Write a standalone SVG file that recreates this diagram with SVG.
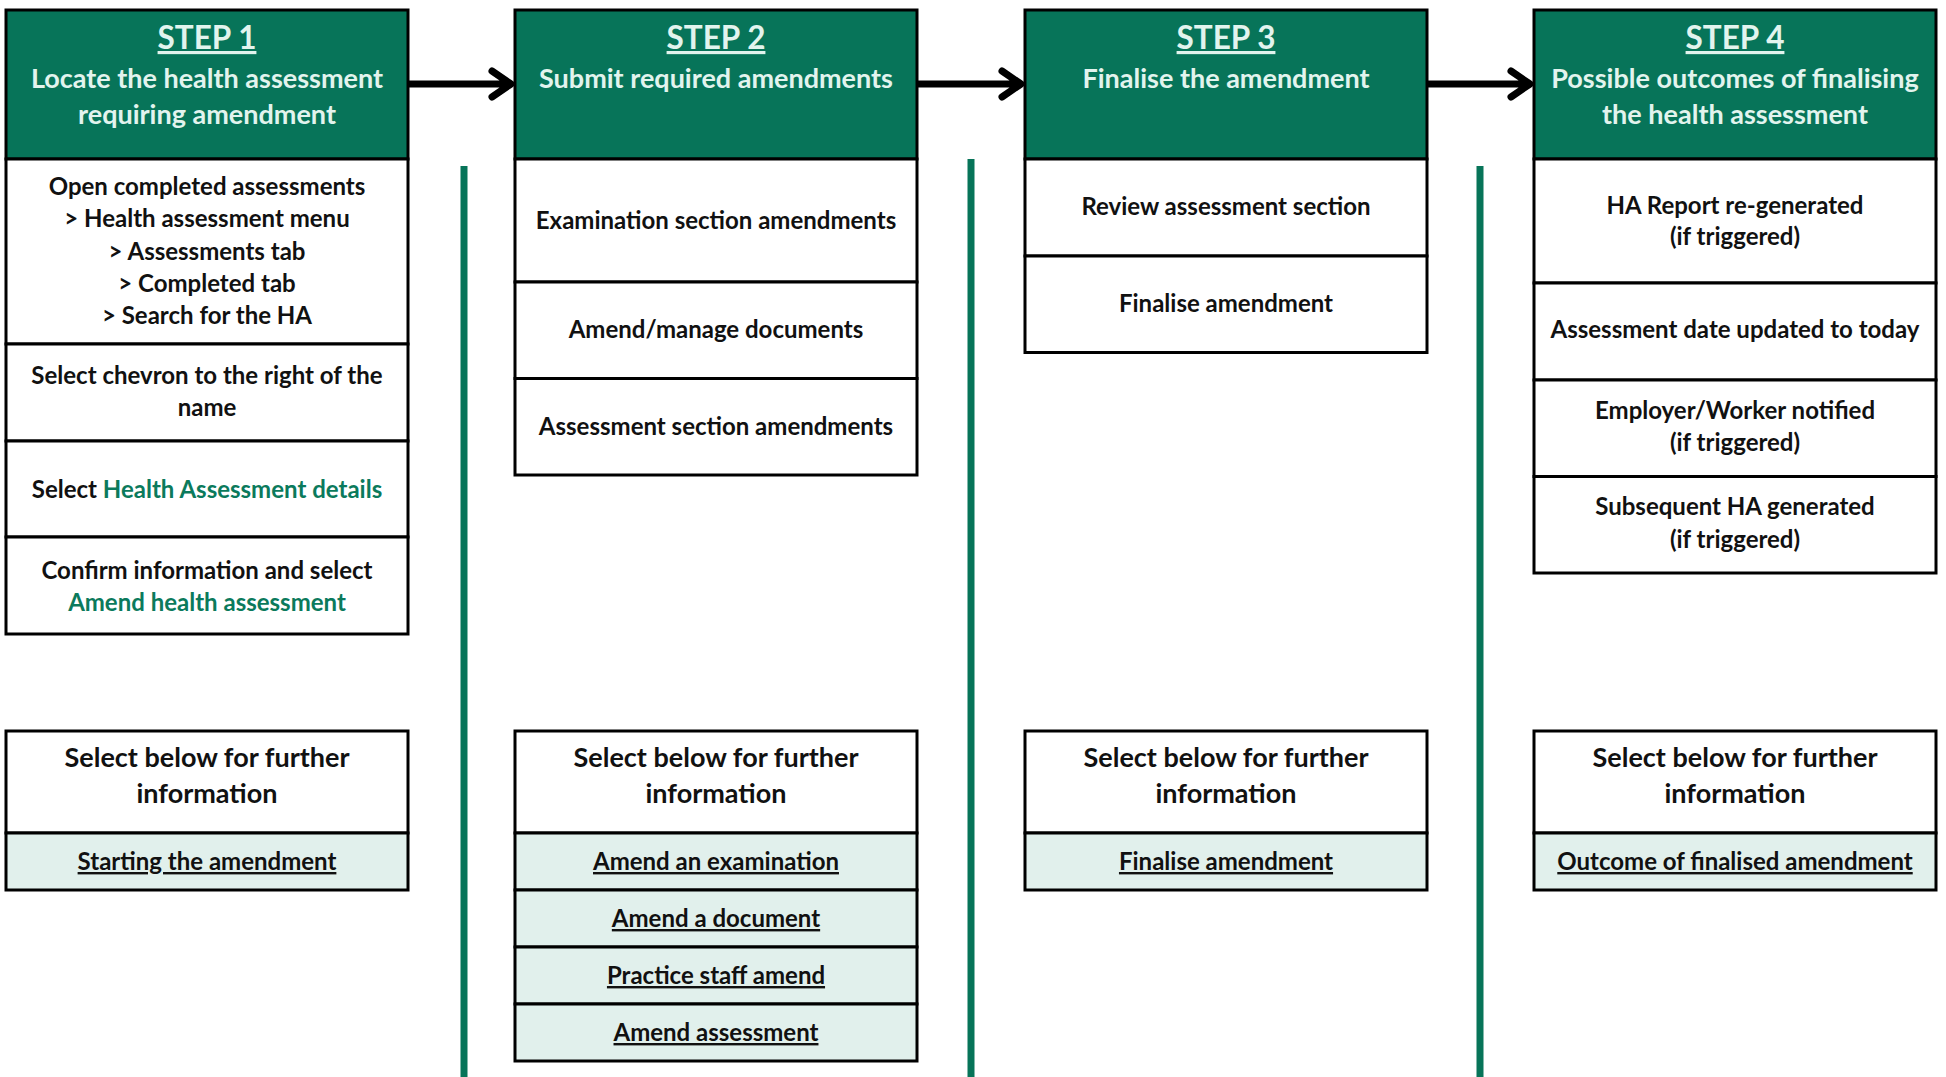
<svg xmlns="http://www.w3.org/2000/svg" width="1946" height="1077" viewBox="0 0 1946 1077">
<defs>
<style>
.hdr{fill:#077459;stroke:#000;stroke-width:3}
.cell{fill:#fff;stroke:#000;stroke-width:3}
.lnk{fill:#e1f0ec;stroke:#000;stroke-width:3}
text{font-family:Lato,"Noto Sans",sans-serif;font-weight:700;text-anchor:middle;fill:#111}
.step{font-size:31.5px;fill:#e2f4ee;text-decoration:underline}
.ht{font-size:27px;fill:#e2f4ee}
.bt{font-size:24px}
.ft{font-size:27px}
.lt{font-size:24px;text-decoration:underline}
.g{fill:#0b7a5c}
.div{stroke:#077459;stroke-width:7}
.arr{fill:none;stroke:#000;stroke-width:7;stroke-linecap:round;stroke-linejoin:round}
</style>
</defs>
<rect width="1946" height="1077" fill="#fff"/>
<g id="dividers">
<line class="div" x1="464" y1="166" x2="464" y2="1077"/>
<line class="div" x1="971" y1="159" x2="971" y2="1077"/>
<line class="div" x1="1480" y1="166" x2="1480" y2="1077"/>
</g>
<g id="connectors">
<path class="arr" d="M408 84H510M492 71L511 84L492 97"/>
<path class="arr" d="M917 84H1020M1002 71L1021 84L1002 97"/>
<path class="arr" d="M1427 84H1529M1511 71L1530 84L1511 97"/>
</g>
<g id="step1">
<g id="step1-header"><rect class="hdr" x="6" y="10" width="402" height="149"/>
<text class="step" x="207" y="49">STEP 1</text>
<text class="ht" x="207" y="88">Locate the health assessment</text>
<text class="ht" x="207" y="124">requiring amendment</text></g>
<g id="step1-row1"><rect class="cell" x="6" y="159" width="402" height="185"/>
<text class="bt" x="207" y="195">Open completed assessments</text>
<text class="bt" x="207" y="227">&gt; Health assessment menu</text>
<text class="bt" x="207" y="260">&gt; Assessments tab</text>
<text class="bt" x="207" y="292">&gt; Completed tab</text>
<text class="bt" x="207" y="324">&gt; Search for the HA</text></g>
<g id="step1-row2"><rect class="cell" x="6" y="344" width="402" height="97"/>
<text class="bt" x="207" y="384">Select chevron to the right of the</text>
<text class="bt" x="207" y="416">name</text></g>
<g id="step1-row3"><rect class="cell" x="6" y="441" width="402" height="96"/>
<text class="bt" x="207" y="498">Select <tspan class="g">Health Assessment details</tspan></text></g>
<g id="step1-row4"><rect class="cell" x="6" y="537" width="402" height="97"/>
<text class="bt" x="207" y="579">Confirm information and select</text>
<text class="bt g" x="207" y="611">Amend health assessment</text></g>
<g id="step1-info"><rect class="cell" x="6" y="731" width="402" height="102"/>
<text class="ft" x="207" y="767">Select below for further</text>
<text class="ft" x="207" y="803">information</text></g>
<g id="step1-link1"><rect class="lnk" x="6" y="833" width="402" height="57"/>
<text class="lt" x="207" y="870">Starting the amendment</text></g>
</g>
<g id="step2">
<g id="step2-header"><rect class="hdr" x="515" y="10" width="402" height="149"/>
<text class="step" x="716" y="49">STEP 2</text>
<text class="ht" x="716" y="88">Submit required amendments</text></g>
<g id="step2-row1"><rect class="cell" x="515" y="159" width="402" height="123"/>
<text class="bt" x="716" y="229">Examination section amendments</text></g>
<g id="step2-row2"><rect class="cell" x="515" y="282" width="402" height="96.5"/>
<text class="bt" x="716" y="338">Amend/manage documents</text></g>
<g id="step2-row3"><rect class="cell" x="515" y="378.5" width="402" height="96.5"/>
<text class="bt" x="716" y="435">Assessment section amendments</text></g>
<g id="step2-info"><rect class="cell" x="515" y="731" width="402" height="102"/>
<text class="ft" x="716" y="767">Select below for further</text>
<text class="ft" x="716" y="803">information</text></g>
<g id="step2-link1"><rect class="lnk" x="515" y="833" width="402" height="57"/>
<text class="lt" x="716" y="870">Amend an examination</text></g>
<g id="step2-link2"><rect class="lnk" x="515" y="890" width="402" height="57"/>
<text class="lt" x="716" y="927">Amend a document</text></g>
<g id="step2-link3"><rect class="lnk" x="515" y="947" width="402" height="57"/>
<text class="lt" x="716" y="984">Practice staff amend</text></g>
<g id="step2-link4"><rect class="lnk" x="515" y="1004" width="402" height="57"/>
<text class="lt" x="716" y="1041">Amend assessment</text></g>
</g>
<g id="step3">
<g id="step3-header"><rect class="hdr" x="1025" y="10" width="402" height="149"/>
<text class="step" x="1226" y="49">STEP 3</text>
<text class="ht" x="1226" y="88">Finalise the amendment</text></g>
<g id="step3-row1"><rect class="cell" x="1025" y="159" width="402" height="97"/>
<text class="bt" x="1226" y="215">Review assessment section</text></g>
<g id="step3-row2"><rect class="cell" x="1025" y="256" width="402" height="96.5"/>
<text class="bt" x="1226" y="312">Finalise amendment</text></g>
<g id="step3-info"><rect class="cell" x="1025" y="731" width="402" height="102"/>
<text class="ft" x="1226" y="767">Select below for further</text>
<text class="ft" x="1226" y="803">information</text></g>
<g id="step3-link1"><rect class="lnk" x="1025" y="833" width="402" height="57"/>
<text class="lt" x="1226" y="870">Finalise amendment</text></g>
</g>
<g id="step4">
<g id="step4-header"><rect class="hdr" x="1534" y="10" width="402" height="149"/>
<text class="step" x="1735" y="49">STEP 4</text>
<text class="ht" x="1735" y="88">Possible outcomes of finalising</text>
<text class="ht" x="1735" y="124">the health assessment</text></g>
<g id="step4-row1"><rect class="cell" x="1534" y="159" width="402" height="124"/>
<text class="bt" x="1735" y="214">HA Report re-generated</text>
<text class="bt" x="1735" y="245">(if triggered)</text></g>
<g id="step4-row2"><rect class="cell" x="1534" y="283" width="402" height="97"/>
<text class="bt" x="1735" y="338">Assessment date updated to today</text></g>
<g id="step4-row3"><rect class="cell" x="1534" y="380" width="402" height="96.5"/>
<text class="bt" x="1735" y="419">Employer/Worker notified</text>
<text class="bt" x="1735" y="451">(if triggered)</text></g>
<g id="step4-row4"><rect class="cell" x="1534" y="476.5" width="402" height="96.5"/>
<text class="bt" x="1735" y="515">Subsequent HA generated</text>
<text class="bt" x="1735" y="548">(if triggered)</text></g>
<g id="step4-info"><rect class="cell" x="1534" y="731" width="402" height="102"/>
<text class="ft" x="1735" y="767">Select below for further</text>
<text class="ft" x="1735" y="803">information</text></g>
<g id="step4-link1"><rect class="lnk" x="1534" y="833" width="402" height="57"/>
<text class="lt" x="1735" y="870">Outcome of finalised amendment</text></g>
</g>
</svg>
